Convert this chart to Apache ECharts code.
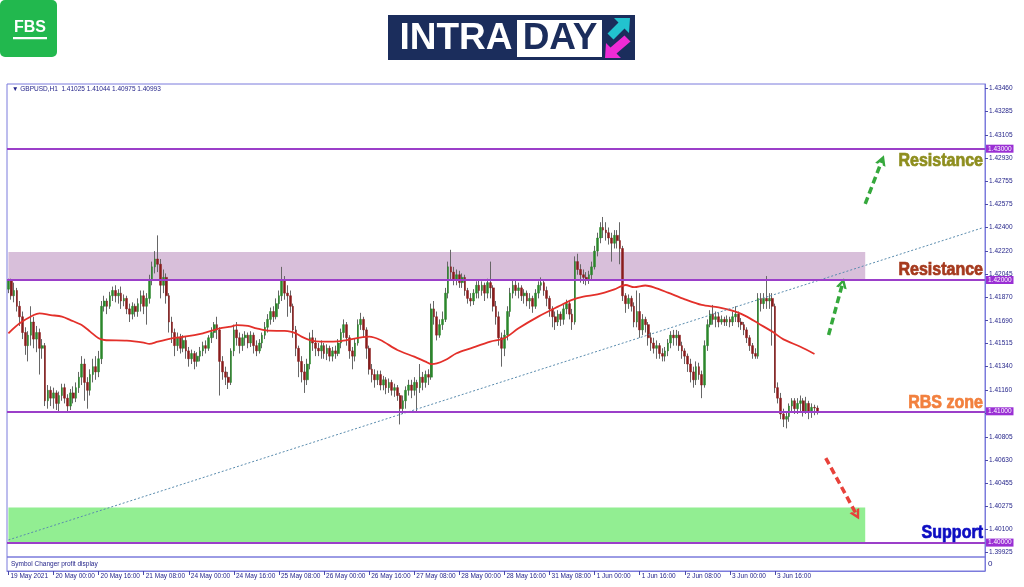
<!DOCTYPE html>
<html><head><meta charset="utf-8">
<script src="https://cdn.jsdelivr.net/npm/echarts@6/dist/echarts.min.js"></script>
<style>html,body{margin:0;padding:0;background:#fff}#c{width:1024px;height:587px}</style>
</head><body><div id="c"></div>
<script>
// ---------- data ----------
const symbolName = 'GBPUSD,H1';
const xLabels = ['19 May 2021','20 May 00:00','20 May 16:00','21 May 08:00','24 May 00:00','24 May 16:00',
  '25 May 08:00','26 May 00:00','26 May 16:00','27 May 08:00','28 May 00:00','28 May 16:00',
  '31 May 08:00','1 Jun 00:00','1 Jun 16:00','2 Jun 08:00','3 Jun 00:00','3 Jun 16:00'];
const labelEvery = 16;          // hourly bars between time labels
const totalSlots = 347;         // bars incl. empty chart-shift area
const yTicks = [1.43460,1.43285,1.43105,1.42930,1.42755,1.42575,1.42400,1.42220,1.42045,1.41870,1.41690,
  1.41515,1.41340,1.41160,1.40985,1.40805,1.40630,1.40455,1.40275,1.40100,1.39925];
const yMin = 1.398903, yMax = 1.434928;
const levels = [1.43, 1.42, 1.41, 1.40];
// [open, close, low, high]
const ohlc = [
[1.4193,1.4200,1.4190,1.4201],[1.4200,1.4188,1.4185,1.4201],[1.4188,1.4192,1.4183,1.4198],[1.4192,1.4180,1.4176,1.4194],
[1.4180,1.4172,1.4165,1.4184],[1.4172,1.4160,1.4155,1.4176],[1.4160,1.4150,1.4143,1.4164],[1.4150,1.4158,1.4138,1.4161],
[1.4158,1.4168,1.4150,1.4180],[1.4168,1.4155,1.4148,1.4172],[1.4155,1.4160,1.4145,1.4165],[1.4160,1.4148,1.4128,1.4163],
[1.4148,1.4150,1.4140,1.4155],[1.4150,1.4108,1.4104,1.4152],[1.4108,1.4116,1.4102,1.4120],[1.4116,1.4110,1.4104,1.4119],
[1.4110,1.4114,1.4102,1.4118],[1.4114,1.4106,1.4101,1.4116],[1.4106,1.4112,1.4100,1.4115],[1.4112,1.4118,1.4108,1.4121],
[1.4118,1.4110,1.4106,1.4121],[1.4110,1.4104,1.4100,1.4113],[1.4104,1.4114,1.4101,1.4117],[1.4114,1.4110,1.4106,1.4119],
[1.4110,1.4118,1.4107,1.4122],[1.4118,1.4126,1.4114,1.4130],[1.4126,1.4136,1.4120,1.4142],[1.4136,1.4122,1.4108,1.4140],
[1.4122,1.4116,1.4102,1.4126],[1.4116,1.4128,1.4112,1.4132],[1.4128,1.4134,1.4122,1.4140],[1.4134,1.4130,1.4124,1.4142],
[1.4130,1.4140,1.4126,1.4146],[1.4140,1.4180,1.4136,1.4184],[1.4180,1.4184,1.4176,1.4188],[1.4184,1.4180,1.4174,1.4186],
[1.4180,1.4188,1.4178,1.4191],[1.4188,1.4192,1.4184,1.4195],[1.4192,1.4188,1.4183,1.4196],[1.4188,1.4190,1.4182,1.4193],
[1.4190,1.4184,1.4178,1.4195],[1.4184,1.4186,1.4180,1.4189],[1.4186,1.4178,1.4174,1.4188],[1.4178,1.4174,1.4168,1.4182],
[1.4174,1.4180,1.4170,1.4183],[1.4180,1.4176,1.4172,1.4182],[1.4176,1.4182,1.4172,1.4186],[1.4182,1.4188,1.4176,1.4192],
[1.4188,1.4180,1.4174,1.4192],[1.4180,1.4186,1.4166,1.4190],[1.4186,1.4200,1.4182,1.4204],[1.4200,1.4210,1.4196,1.4214],
[1.4210,1.4216,1.4205,1.4222],[1.4216,1.4212,1.4206,1.4234],[1.4212,1.4196,1.4186,1.4216],[1.4196,1.4202,1.4190,1.4208],
[1.4202,1.4188,1.4182,1.4205],[1.4188,1.4168,1.4160,1.4190],[1.4168,1.4160,1.4152,1.4172],[1.4160,1.4150,1.4142,1.4163],
[1.4150,1.4156,1.4146,1.4160],[1.4156,1.4148,1.4144,1.4159],[1.4148,1.4154,1.4145,1.4158],[1.4154,1.4146,1.4140,1.4157],
[1.4146,1.4140,1.4134,1.4149],[1.4140,1.4144,1.4136,1.4147],[1.4144,1.4138,1.4132,1.4146],[1.4138,1.4142,1.4134,1.4145],
[1.4142,1.4146,1.4138,1.4149],[1.4146,1.4150,1.4142,1.4153],[1.4150,1.4148,1.4144,1.4154],[1.4148,1.4156,1.4146,1.4158],
[1.4156,1.4160,1.4152,1.4164],[1.4160,1.4166,1.4156,1.4168],[1.4166,1.4162,1.4155,1.4172],[1.4162,1.4138,1.4112,1.4164],
[1.4138,1.4130,1.4124,1.4142],[1.4130,1.4126,1.4120,1.4134],[1.4126,1.4122,1.4117,1.4130],[1.4122,1.4146,1.4120,1.4148],
[1.4146,1.4162,1.4142,1.4166],[1.4162,1.4156,1.4150,1.4168],[1.4156,1.4150,1.4144,1.4160],[1.4150,1.4156,1.4146,1.4159],
[1.4156,1.4158,1.4150,1.4161],[1.4158,1.4152,1.4148,1.4160],[1.4152,1.4158,1.4149,1.4161],[1.4158,1.4150,1.4144,1.4160],
[1.4150,1.4146,1.4142,1.4154],[1.4146,1.4152,1.4144,1.4155],[1.4152,1.4158,1.4148,1.4160],[1.4158,1.4164,1.4155,1.4168],
[1.4164,1.4170,1.4160,1.4174],[1.4170,1.4176,1.4166,1.4179],[1.4176,1.4172,1.4168,1.4180],[1.4172,1.4182,1.4170,1.4186],
[1.4182,1.4188,1.4178,1.4192],[1.4188,1.4200,1.4184,1.4210],[1.4200,1.4190,1.4185,1.4203],[1.4190,1.4188,1.4172,1.4196],
[1.4188,1.4180,1.4175,1.4192],[1.4180,1.4162,1.4156,1.4182],[1.4162,1.4148,1.4142,1.4165],[1.4148,1.4138,1.4126,1.4150],
[1.4138,1.4130,1.4122,1.4142],[1.4130,1.4124,1.4114,1.4136],[1.4124,1.4136,1.4120,1.4140],[1.4136,1.4156,1.4132,1.4160],
[1.4156,1.4152,1.4146,1.4162],[1.4152,1.4148,1.4142,1.4156],[1.4148,1.4146,1.4142,1.4152],[1.4146,1.4150,1.4140,1.4154],
[1.4150,1.4144,1.4140,1.4152],[1.4144,1.4148,1.4139,1.4151],[1.4148,1.4142,1.4138,1.4150],[1.4142,1.4146,1.4138,1.4149],
[1.4146,1.4144,1.4140,1.4150],[1.4144,1.4152,1.4142,1.4155],[1.4152,1.4160,1.4148,1.4163],[1.4160,1.4166,1.4156,1.4170],
[1.4166,1.4156,1.4150,1.4168],[1.4156,1.4146,1.4140,1.4158],[1.4146,1.4142,1.4132,1.4149],[1.4142,1.4152,1.4138,1.4155],
[1.4152,1.4166,1.4150,1.4170],[1.4166,1.4170,1.4162,1.4175],[1.4170,1.4162,1.4156,1.4172],[1.4162,1.4148,1.4140,1.4164],
[1.4148,1.4132,1.4128,1.4150],[1.4132,1.4128,1.4122,1.4136],[1.4128,1.4124,1.4118,1.4132],[1.4124,1.4128,1.4120,1.4131],
[1.4128,1.4120,1.4116,1.4131],[1.4120,1.4124,1.4116,1.4127],[1.4124,1.4118,1.4113,1.4126],[1.4118,1.4122,1.4114,1.4125],
[1.4122,1.4116,1.4112,1.4124],[1.4116,1.4118,1.4111,1.4121],[1.4118,1.4112,1.4108,1.4120],[1.4112,1.4102,1.4090,1.4114],
[1.4102,1.4108,1.4098,1.4112],[1.4108,1.4116,1.4102,1.4119],[1.4116,1.4120,1.4112,1.4124],[1.4120,1.4116,1.4110,1.4124],
[1.4116,1.4122,1.4112,1.4126],[1.4122,1.4118,1.4100,1.4124],[1.4118,1.4126,1.4114,1.4136],[1.4126,1.4122,1.4116,1.4130],
[1.4122,1.4128,1.4118,1.4131],[1.4128,1.4126,1.4120,1.4132],[1.4126,1.4178,1.4124,1.4182],[1.4178,1.4172,1.4166,1.4184],
[1.4172,1.4158,1.4154,1.4176],[1.4158,1.4166,1.4156,1.4170],[1.4166,1.4170,1.4162,1.4176],[1.4170,1.4190,1.4168,1.4194],
[1.4190,1.4210,1.4186,1.4214],[1.4210,1.4206,1.4200,1.4223],[1.4206,1.4200,1.4196,1.4210],[1.4200,1.4204,1.4196,1.4208],
[1.4204,1.4198,1.4194,1.4207],[1.4198,1.4202,1.4194,1.4205],[1.4202,1.4192,1.4188,1.4204],[1.4192,1.4186,1.4182,1.4194],
[1.4186,1.4184,1.4180,1.4190],[1.4184,1.4190,1.4181,1.4193],[1.4190,1.4196,1.4186,1.4199],[1.4196,1.4192,1.4186,1.4200],
[1.4192,1.4196,1.4188,1.4199],[1.4196,1.4190,1.4184,1.4198],[1.4190,1.4198,1.4186,1.4201],[1.4198,1.4194,1.4186,1.4214],
[1.4194,1.4180,1.4176,1.4196],[1.4180,1.4172,1.4166,1.4184],[1.4172,1.4156,1.4150,1.4176],[1.4156,1.4148,1.4134,1.4160],
[1.4148,1.4158,1.4142,1.4162],[1.4158,1.4176,1.4154,1.4180],[1.4176,1.4190,1.4172,1.4194],[1.4190,1.4196,1.4186,1.4200],
[1.4196,1.4192,1.4188,1.4200],[1.4192,1.4194,1.4186,1.4198],[1.4194,1.4188,1.4184,1.4196],[1.4188,1.4190,1.4182,1.4193],
[1.4190,1.4184,1.4180,1.4192],[1.4184,1.4186,1.4178,1.4190],[1.4186,1.4180,1.4175,1.4188],[1.4180,1.4190,1.4178,1.4193],
[1.4190,1.4196,1.4186,1.4199],[1.4196,1.4198,1.4192,1.4202],[1.4198,1.4192,1.4188,1.4200],[1.4192,1.4186,1.4180,1.4195],
[1.4186,1.4178,1.4172,1.4188],[1.4178,1.4172,1.4164,1.4180],[1.4172,1.4168,1.4162,1.4176],[1.4168,1.4174,1.4165,1.4177],
[1.4174,1.4170,1.4165,1.4176],[1.4170,1.4178,1.4166,1.4181],[1.4178,1.4182,1.4174,1.4185],[1.4182,1.4174,1.4170,1.4184],
[1.4174,1.4168,1.4162,1.4178],[1.4168,1.4214,1.4166,1.4218],[1.4214,1.4208,1.4204,1.4220],[1.4208,1.4204,1.4198,1.4212],
[1.4204,1.4202,1.4197,1.4208],[1.4202,1.4200,1.4196,1.4206],[1.4200,1.4204,1.4197,1.4207],[1.4204,1.4210,1.4200,1.4214],
[1.4210,1.4222,1.4208,1.4226],[1.4222,1.4232,1.4218,1.4236],[1.4232,1.4240,1.4228,1.4244],[1.4240,1.4238,1.4232,1.4248],
[1.4238,1.4236,1.4230,1.4244],[1.4236,1.4232,1.4227,1.4240],[1.4232,1.4228,1.4214,1.4236],[1.4228,1.4234,1.4224,1.4238],
[1.4234,1.4230,1.4224,1.4238],[1.4230,1.4224,1.4212,1.4244],[1.4224,1.4188,1.4184,1.4226],[1.4188,1.4182,1.4175,1.4190],
[1.4182,1.4186,1.4178,1.4189],[1.4186,1.4180,1.4176,1.4188],[1.4180,1.4168,1.4164,1.4183],[1.4168,1.4176,1.4164,1.4192],
[1.4176,1.4162,1.4156,1.4190],[1.4162,1.4170,1.4158,1.4174],[1.4170,1.4166,1.4160,1.4172],[1.4166,1.4156,1.4150,1.4168],
[1.4156,1.4152,1.4146,1.4160],[1.4152,1.4148,1.4144,1.4156],[1.4148,1.4150,1.4140,1.4154],[1.4150,1.4144,1.4140,1.4152],
[1.4144,1.4142,1.4138,1.4148],[1.4142,1.4146,1.4138,1.4149],[1.4146,1.4152,1.4142,1.4155],[1.4152,1.4158,1.4148,1.4161],
[1.4158,1.4156,1.4150,1.4162],[1.4156,1.4158,1.4150,1.4162],[1.4158,1.4150,1.4146,1.4161],[1.4150,1.4146,1.4140,1.4153],
[1.4146,1.4142,1.4136,1.4148],[1.4142,1.4136,1.4130,1.4144],[1.4136,1.4130,1.4122,1.4140],[1.4130,1.4124,1.4118,1.4134],
[1.4124,1.4134,1.4120,1.4138],[1.4134,1.4128,1.4124,1.4137],[1.4128,1.4120,1.4110,1.4131],[1.4120,1.4150,1.4118,1.4154],
[1.4150,1.4166,1.4146,1.4170],[1.4166,1.4174,1.4164,1.4177],[1.4174,1.4170,1.4166,1.4181],[1.4170,1.4172,1.4164,1.4176],
[1.4172,1.4168,1.4164,1.4175],[1.4168,1.4170,1.4166,1.4173],[1.4170,1.4168,1.4165,1.4172],[1.4168,1.4170,1.4165,1.4173],
[1.4170,1.4168,1.4164,1.4172],[1.4168,1.4172,1.4165,1.4176],[1.4172,1.4174,1.4168,1.4180],[1.4174,1.4168,1.4164,1.4176],
[1.4168,1.4166,1.4162,1.4171],[1.4166,1.4162,1.4158,1.4168],[1.4162,1.4156,1.4152,1.4164],[1.4156,1.4150,1.4146,1.4158],
[1.4150,1.4144,1.4140,1.4152],[1.4144,1.4142,1.4140,1.4148],[1.4142,1.4186,1.4140,1.4190],[1.4186,1.4182,1.4176,1.4190],
[1.4182,1.4186,1.4178,1.4190],[1.4186,1.4184,1.4178,1.4203],[1.4184,1.4186,1.4178,1.4190],[1.4186,1.4180,1.4150,1.4190],
[1.4180,1.4118,1.4114,1.4182],[1.4118,1.4110,1.4106,1.4122],[1.4110,1.4098,1.4094,1.4114],[1.4098,1.4094,1.4088,1.4102],
[1.4094,1.4096,1.4087,1.4099],[1.4096,1.4104,1.4092,1.4106],[1.4104,1.4108,1.4100,1.4110],[1.4108,1.4102,1.4098,1.4110],
[1.4102,1.4106,1.4098,1.4110],[1.4106,1.4108,1.4100,1.4112],[1.4108,1.4100,1.4096,1.4110],[1.4100,1.4106,1.4098,1.4111],
[1.4106,1.4100,1.4094,1.4108],[1.4100,1.4103,1.4095,1.4106],[1.4103,1.41025,1.4097,1.4105],[1.41025,1.40993,1.40975,1.41044]
];
// 50-period moving average: [bar index, value]
const maPoints = [[0,1.41594],[4,1.41670],[9,1.41733],[11,1.41746],[15,1.41733],[19,1.41721],[22,1.41695],[26,1.41657],
[29,1.41607],[32,1.41556],[34,1.41543],[42,1.41538],[48,1.41523],[50,1.41513],[53,1.41531],[58,1.41556],[61,1.41564],
[66,1.41581],[69,1.41594],[73,1.41619],[75,1.41632],[79,1.41645],[81,1.41657],[85,1.41650],[88,1.41632],[92,1.41614],
[98,1.41612],[100,1.41607],[102,1.41594],[104,1.41569],[107,1.41543],[111,1.41531],[118,1.41535],[128,1.41569],
[132,1.41543],[138,1.41467],[144,1.41416],[148,1.41378],[150,1.41360],[152,1.41365],[155,1.41391],[159,1.41442],
[164,1.41480],[171,1.41531],[176,1.41556],[181,1.41632],[188,1.41721],[195,1.41797],[200,1.41848],[204,1.41873],
[209,1.41890],[215,1.41929],[219,1.41962],[222,1.41945],[226,1.41958],[229,1.41944],[234,1.41904],[240,1.41853],
[246,1.41810],[252,1.41792],[258,1.41759],[262,1.41721],[266,1.41670],[271,1.41607],[275,1.41548],[281,1.41492],[286,1.41437]];
const trendLine = [[0,1.40020],[346,1.42400]];
const zones = [
  {from:1.42000, to:1.42213, endBar:304, color:'#d8bfda'},
  {from:1.40000, to:1.40267, endBar:304, color:'#92ee92'}
];
const arrows = [
  {from:[304,1.42579], to:[310,1.42914], color:'#35a83c'},
  {from:[291,1.41581], to:[296,1.41977], color:'#35a83c'},
  {from:[290,1.40644], to:[301,1.40210], color:'#e8413a'}
];
const notes = [
  {text:'Resistance', y:161, color:'#8e8e1e'},
  {text:'Resistance', y:270, color:'#a5391d'},
  {text:'RBS zone',   y:403, color:'#f2803e'},
  {text:'Support',    y:533, color:'#0d0dc2'}
];

// ---------- chart ----------
const frame = '#7b7bdc', txt = '#25258a';
const smallFont = "'Liberation Sans', Arial, sans-serif";
const boldFont = "'Liberation Sans', Arial, sans-serif";
const cats = Array.from({length: totalSlots}, (_, i) => String(i));
const isLabel = i => i % labelEvery === 0 && (i / labelEvery) < xLabels.length;
const bodies = ohlc.map(d => [d[0], d[1], Math.min(d[0], d[1]), Math.max(d[0], d[1])]);
const last = ohlc[ohlc.length - 1];
const header = '\u25BC ' + symbolName + '  ' + [last[0], last[3], last[2], last[1]].map(v => v.toFixed(5)).join(' ');
const chev = 'path://M0,9 L5,0 L10,9 L7.4,9 L5,4.4 L2.6,9 Z';

const chart = echarts.init(document.getElementById('c'), null, {renderer: 'canvas'});
chart.setOption({
  animation: false,
  backgroundColor: '#ffffff',
  grid: [
    {left: 7, top: 84, width: 978, height: 473, show: true, borderColor: frame, borderWidth: 1},
    {left: 7, top: 557, width: 978, height: 14, show: true, borderColor: frame, borderWidth: 1}
  ],
  xAxis: [
    {gridIndex: 0, type: 'category', data: cats, boundaryGap: true,
     axisLine: {show: false}, axisTick: {show: false}, axisLabel: {show: false}, splitLine: {show: false}},
    {gridIndex: 1, type: 'category', data: cats, boundaryGap: true,
     axisLine: {show: true, lineStyle: {color: frame, width: 1}},
     axisTick: {show: true, alignWithLabel: true, interval: (i) => isLabel(i), length: 4, lineStyle: {color: '#4a4aa8'}},
     axisLabel: {interval: (i) => isLabel(i), formatter: (v, i) => isLabel(i) ? xLabels[i / labelEvery] : '',
       align: 'left', margin: 2, fontSize: 6.5, color: txt, fontFamily: smallFont, padding: [0, 0, 0, 2]},
     splitLine: {show: false}}
  ],
  yAxis: [
    {gridIndex: 0, type: 'value', position: 'right', min: yMin, max: yMax, scale: true,
     axisLine: {show: true, lineStyle: {color: frame}},
     axisTick: {show: true, customValues: yTicks, length: 3, lineStyle: {color: '#4a4aa8'}},
     axisLabel: {customValues: yTicks, formatter: v => v.toFixed(5), fontSize: 6.5, color: txt, margin: 4, fontFamily: smallFont},
     splitLine: {show: false}},
    {gridIndex: 1, type: 'value', position: 'right', min: 0, max: 1,
     axisLine: {show: true, lineStyle: {color: frame}}, axisTick: {show: false},
     axisLabel: {customValues: [0.5], formatter: () => '0', fontSize: 8, color: txt, margin: 3, fontFamily: smallFont},
     splitLine: {show: false}}
  ],
  series: [
    {name: 'zones', type: 'line', xAxisIndex: 0, yAxisIndex: 0, data: [], z: 1, silent: true,
     markArea: {silent: true, data: zones.map(zn => [
       {coord: [0, zn.from], itemStyle: {color: zn.color, opacity: 1}},
       {coord: [zn.endBar, zn.to]}])}},
    {name: 'wicks', type: 'candlestick', xAxisIndex: 0, yAxisIndex: 0, data: ohlc, barWidth: 0.8, z: 2, silent: true,
     itemStyle: {color: '#666666', color0: '#666666', borderColor: '#666666', borderColor0: '#666666', borderWidth: 1}},
    {name: 'bodies', type: 'candlestick', xAxisIndex: 0, yAxisIndex: 0, data: bodies, barWidth: 2.2, z: 3, silent: true,
     itemStyle: {color: '#2b872b', color0: '#8a1c1c', borderColor: '#2b872b', borderColor0: '#8a1c1c', borderWidth: 0.5}},
    {name: 'MA', type: 'line', xAxisIndex: 0, yAxisIndex: 0, data: maPoints, symbol: 'none', smooth: 0.3, z: 4,
     lineStyle: {color: '#e3302a', width: 1.8}},
    {name: 'trend', type: 'line', xAxisIndex: 0, yAxisIndex: 0, data: trendLine, symbol: 'none', z: 4,
     lineStyle: {color: '#5a8cae', width: 1, type: [2, 2]},
     markLine: {silent: true, symbol: ['none', chev], symbolSize: [11, 10], label: {show: false},
       data: arrows.map(a => [
         {coord: a.from, lineStyle: {color: a.color, width: 3.5, type: [7, 4]}, symbol: 'none'},
         {coord: a.to, lineStyle: {color: a.color, width: 3.5, type: [7, 4]}, symbol: chev}])}},
    {name: 'levels', type: 'line', xAxisIndex: 0, yAxisIndex: 0, data: [], z: 5, silent: true,
     markLine: {silent: true, symbol: ['none', 'none'],
       lineStyle: {color: '#9b3fc9', width: 2, type: 'solid'},
       label: {show: true, position: 'end', distance: 1, formatter: p => p.value.toFixed(5),
         color: '#ffffff', backgroundColor: '#9a2fd4', fontSize: 6.5, padding: [1, 2, 0, 2], fontFamily: smallFont},
       data: levels.map(v => ({yAxis: v}))}}
  ],
  graphic: [
    {type: 'rect', shape: {x: 0, y: 0, width: 57, height: 57, r: 5}, style: {fill: '#22b84e'}, z: 10},
    {type: 'text', x: 30, y: 28, style: {text: 'FBS', fill: '#ffffff', font: 'bold 16px ' + boldFont,
      textAlign: 'center', textVerticalAlign: 'middle', align: 'center', verticalAlign: 'middle'}, z: 11},
    {type: 'rect', shape: {x: 13, y: 37, width: 34, height: 2.2}, style: {fill: '#ffffff'}, z: 11},
    {type: 'rect', shape: {x: 388, y: 15, width: 247, height: 45}, style: {fill: '#1b2d5c'}, z: 10},
    {type: 'rect', shape: {x: 517, y: 20, width: 85, height: 37}, style: {fill: '#ffffff'}, z: 11},
    {type: 'text', x: 456, y: 39, style: {text: 'INTRA', fill: '#ffffff', font: 'bold 37px ' + boldFont,
      textAlign: 'center', textVerticalAlign: 'middle', align: 'center', verticalAlign: 'middle'}, z: 11},
    {type: 'text', x: 560, y: 39, style: {text: 'DAY', fill: '#1b2d5c', font: 'bold 37px ' + boldFont,
      textAlign: 'center', textVerticalAlign: 'middle', align: 'center', verticalAlign: 'middle'}, z: 12},
    {type: 'polygon', shape: {points: [[630,18],[629,33],[624.5,28.5],[613.5,39.5],[607.5,33.5],[618.5,22.5],[614,18]]},
      style: {fill: '#22c3cf'}, z: 11},
    {type: 'polygon', shape: {points: [[605,58],[606,43],[610.5,47.5],[624.5,35.5],[630.5,41.5],[616.5,53.5],[621,58]]},
      style: {fill: '#ee2bd6'}, z: 11},
    {type: 'text', x: 12, y: 89, style: {text: header, fill: txt, font: '6.5px ' + smallFont,
      textVerticalAlign: 'middle', verticalAlign: 'middle'}, z: 10},
    {type: 'text', x: 11, y: 564, style: {text: 'Symbol Changer profit display', fill: txt, font: '6.5px ' + smallFont,
      textVerticalAlign: 'middle', verticalAlign: 'middle'}, z: 10}
  ].concat(notes.map(n => ({type: 'text', x: 983, y: n.y, z: 10, scaleX: 0.89,
      style: {text: n.text, fill: n.color, stroke: n.color, lineWidth: 0.7, font: 'bold 18px ' + boldFont,
        textAlign: 'right', textVerticalAlign: 'middle', align: 'right', verticalAlign: 'middle'}})))
});
</script>
</body></html>
